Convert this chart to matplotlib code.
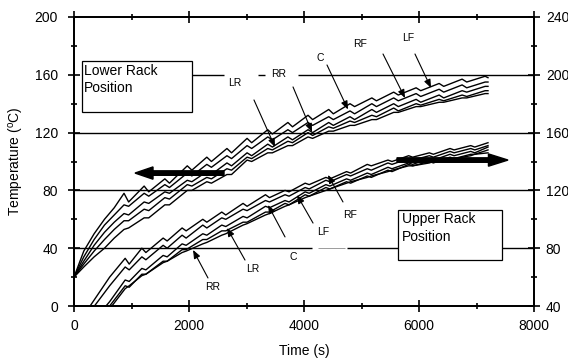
import matplotlib.pyplot as plt
from matplotlib.ticker import MultipleLocator
from matplotlib.patches import Rectangle

plt.rcParams['font.family'] = ['Liberation Sans', 'DejaVu Sans']

# lower rack position -> left axis (deg C)
t_lower = [0, 170, 350, 530, 700, 870, 950, 1220, 1300, 1580, 1660, 1970, 2050,
           2310, 2390, 2660, 2740, 3010, 3090, 3370, 3450, 3720, 3800, 4070, 4150,
           4430, 4510, 4800, 4880, 5180, 5260, 5560, 5640, 5950, 6030, 6350, 6430,
           6750, 6830, 7150, 7200]
lower_lf = [20, 38, 50, 60, 68, 78, 72, 83, 79, 88, 85, 97, 94, 103, 100, 109, 106,
            116, 113, 122, 119, 127, 124, 132, 129, 136, 133, 140, 138, 144, 142,
            148, 146, 151, 149, 154, 152, 157, 155, 159, 158]
lower_rf = [20, 34, 46, 56, 63, 70, 69, 78, 76, 84, 82, 92, 90, 98, 96, 104, 102,
            111, 109, 117, 115, 122, 120, 127, 125, 131, 129, 135, 133, 140, 138,
            144, 142, 147, 145, 150, 148, 153, 151, 155, 155]
lower_c = [20, 31, 42, 51, 58, 64, 63, 72, 71, 79, 78, 87, 86, 93, 91, 99, 97,
           106, 104, 112, 110, 117, 115, 122, 120, 127, 125, 131, 129, 136, 134,
           140, 138, 143, 141, 146, 144, 149, 148, 152, 152]
lower_rr = [20, 29, 38, 46, 53, 59, 59, 67, 66, 75, 74, 84, 83, 89, 88, 95, 94,
            103, 102, 109, 108, 114, 113, 120, 118, 124, 123, 128, 127, 132, 131,
            137, 135, 140, 139, 143, 142, 146, 145, 149, 149]
lower_lr = [20, 27, 34, 40, 47, 53, 54, 61, 61, 70, 70, 80, 80, 86, 85, 91, 91,
            101, 100, 106, 106, 111, 111, 117, 116, 121, 121, 125, 125, 129, 129,
            134, 134, 138, 138, 141, 141, 144, 144, 147, 147]

# upper rack position -> right axis (deg C)
t_upper = [0, 280, 450, 620, 890, 960, 1180, 1250, 1550, 1620, 1880, 1950, 2240,
           2310, 2570, 2640, 2940, 3010, 3330, 3400, 3670, 3740, 4020, 4090, 4380,
           4450, 4740, 4810, 5100, 5170, 5460, 5530, 5820, 5890, 6180, 6250, 6540,
           6610, 6900, 6970, 7200]
upper_1 = [25, 40, 50, 60, 73, 69, 80, 77, 87, 85, 94, 92, 100, 98, 105, 103, 111,
           109, 117, 115, 120, 119, 125, 124, 129, 128, 133, 132, 138, 137, 141,
           140, 144, 143, 146, 145, 149, 148, 151, 150, 153]
upper_2 = [22, 36, 45, 54, 67, 65, 74, 72, 82, 80, 89, 87, 96, 94, 101, 100, 107,
           106, 113, 112, 117, 116, 122, 121, 127, 126, 131, 130, 135, 134, 139,
           138, 142, 141, 144, 143, 147, 146, 149, 148, 151]
upper_3 = [15, 28, 35, 43, 58, 57, 66, 65, 75, 74, 83, 82, 90, 89, 96, 95, 102,
           101, 109, 108, 113, 112, 119, 118, 124, 123, 128, 127, 132, 131, 136,
           135, 139, 138, 142, 141, 145, 144, 147, 146, 150]
upper_4 = [10, 22, 32, 40, 54, 53, 62, 62, 71, 71, 79, 79, 86, 86, 92, 92, 98, 98,
           105, 105, 111, 110, 117, 116, 122, 121, 126, 125, 130, 129, 134, 133,
           138, 137, 140, 139, 143, 142, 145, 145, 148]
upper_5 = [0, 15, 28, 38, 52, 54, 61, 62, 70, 71, 77, 78, 83, 84, 89, 90, 96, 97,
           103, 104, 109, 110, 115, 116, 120, 121, 125, 126, 129, 130, 133, 134,
           137, 137, 139, 140, 142, 142, 144, 145, 146]

fig = plt.figure(figsize=(5.68, 3.6), dpi=100)
ax = fig.add_axes([74/568, 54/360, 460/568, 289/360])
ax2 = ax.twinx()

ax.set_xlim(0, 8000)
ax.set_ylim(0, 200)
ax2.set_ylim(40, 240)

# horizontal grid lines (with gaps behind the labels)
ax.hlines([80, 120], 0, 8000, color='k', lw=1.0, zorder=1)
ax.hlines([160, 160, 160], [2052, 3200, 3896], [2609, 3322, 8000], color='k', lw=1.0, zorder=1)
ax.hlines([40, 40], [0, 4748], [4139, 8000], color='k', lw=1.0, zorder=1)
ax.hlines(40, 4243, 4713, color='0.55', lw=0.6, zorder=1)

for y in [lower_lf, lower_rf, lower_c, lower_rr, lower_lr]:
    ax.plot(t_lower, y, color='k', lw=1.0, zorder=2)
for y in [upper_1, upper_2, upper_3, upper_4, upper_5]:
    ax2.plot(t_upper, y, color='k', lw=1.0, zorder=2)

# boxes
ax.add_patch(Rectangle((139, 134.3), 1913, 35.3, fc='white', ec='k', lw=0.9, zorder=4))
ax.text(180, 167.5, 'Lower Rack\nPosition', fontsize=10, ha='left', va='top',
        linespacing=1.3, zorder=5)
ax.add_patch(Rectangle((5635, 31.8), 1808, 34.6, fc='white', ec='k', lw=0.9, zorder=4))
ax.text(5704, 64.8, 'Upper Rack\nPosition', fontsize=10, ha='left', va='top',
        linespacing=1.3, zorder=5)

# big arrows pointing to the axis to read
ax.arrow(2609, 92, -1548, 0, width=3.1, head_width=8.5, head_length=313,
         length_includes_head=True, fc='k', ec='k', zorder=6)
ax2.arrow(5617, 141, 1931, 0, width=3.1, head_width=8.5, head_length=340,
          length_includes_head=True, fc='k', ec='k', zorder=6)

# curve labels
labels = [
    ('LR', (2800, 154), (3130, 142.6), (3496, 110)),
    ('RR', (3565, 160.5), (3809, 151.6), (4139, 120.4)),
    ('C', (4278, 171.6), (4400, 166.8), (4765, 136)),
    ('RF', (4974, 181.3), (5374, 174.4), (5757, 143.9)),
    ('LF', (5809, 185.5), (5930, 174.4), (6209, 150.9)),
    ('RR', (2417, 13.1), (2330, 19.4), (2070, 38.8)),
    ('LR', (3113, 25.6), (2974, 31.8), (2661, 54)),
    ('C', (3809, 33.9), (3670, 47.8), (3374, 69.9)),
    ('LF', (4330, 51.2), (4157, 57.4), (3878, 76.8)),
    ('RF', (4800, 63), (4678, 72), (4417, 90.7)),
]
for txt, pos, start, tip in labels:
    ax2.text(pos[0], pos[1], txt, fontsize=7.5, ha='center', va='center',
             transform=ax.transData, zorder=7)
    ax2.annotate('', xy=tip, xytext=start, xycoords=ax.transData,
                 textcoords=ax.transData,
                 arrowprops=dict(arrowstyle='-|>,head_length=0.5,head_width=0.2',
                                 color='k', lw=0.8, shrinkA=0, shrinkB=0),
                 zorder=7)

# axes, ticks
ax.xaxis.set_major_locator(MultipleLocator(2000))
ax.xaxis.set_minor_locator(MultipleLocator(1000))
ax.yaxis.set_major_locator(MultipleLocator(40))
ax.yaxis.set_minor_locator(MultipleLocator(20))
ax2.yaxis.set_major_locator(MultipleLocator(40))
ax2.yaxis.set_minor_locator(MultipleLocator(20))

ax.tick_params(axis='x', which='both', direction='inout', top=True, bottom=True,
               labelsize=10, pad=5, width=1.2)
ax.tick_params(axis='y', which='both', direction='inout', left=True, right=False,
               labelsize=10, pad=7, width=1.2)
ax2.tick_params(axis='y', which='both', direction='inout', labelsize=10, pad=4,
                width=1.2)
for a in (ax, ax2):
    a.tick_params(which='major', length=9)
    a.tick_params(which='minor', length=5)
    for s in a.spines.values():
        s.set_linewidth(1.3)

ax.set_xlabel('Time (s)', fontsize=10, labelpad=8)
ax.set_ylabel('Temperature ($^\\mathregular{o}$C)', fontsize=10, labelpad=6)

fig.savefig('out.png', dpi=100)
